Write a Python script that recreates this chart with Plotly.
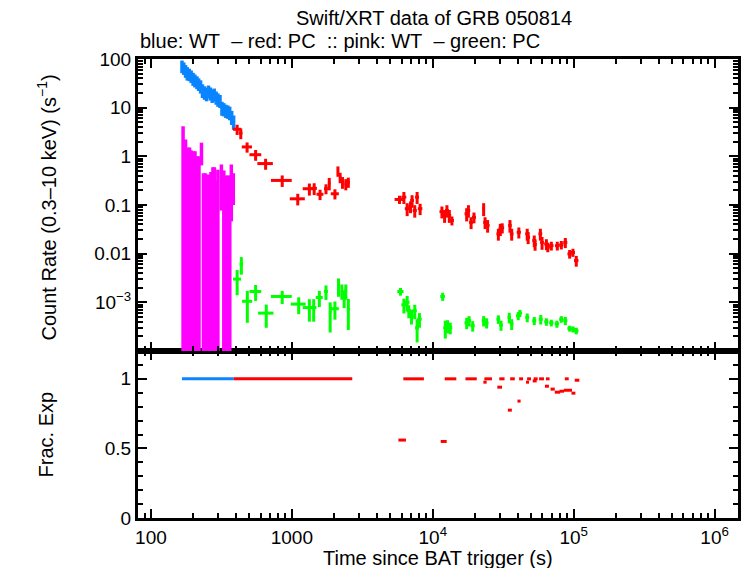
import plotly.graph_objects as go

# ---------------- data ----------------
# WT (blue) count rate
blue_t = [166, 171, 176, 181, 187, 193, 199, 205, 212, 218, 225, 232, 240, 248,
          256, 264, 272, 281, 290, 299, 309, 319, 329, 340, 351, 362, 374, 386]
blue_y = [72, 66, 58, 52, 49, 45, 40, 37, 34, 31, 28, 23, 21, 19.5,
          22, 20, 18, 19, 16.5, 15, 14, 10, 9.5, 8.8, 8.5, 8.0, 6.5, 5.2]
blue_err = [21, 19, 17, 16, 14, 13, 12, 11, 10, 9, 8.5, 7.2, 6.5, 6,
            6.5, 6, 5.5, 5.7, 5, 4.6, 4.2, 3.2, 2.9, 2.7, 2.6, 2.5, 2.1, 1.7]

# WT (pink) band: bar top and bottom (1e-6 = below the axis floor)
pink_t = [169, 176, 181.9, 187.9, 192.5, 198.8, 205.4, 212.2, 219.2, 228.3,
          235.8, 243.6, 251.6, 260.0, 266.4, 275.2, 282, 289, 298.5, 316,
          328.8, 339.7, 351, 362.7, 371.7, 384]
pink_top = [4.16, 2.21, 1.51, 1.51, 1.33, 1.27, 1.27, 1.0, 1.0, 1.91,
            0.45, 0.45, 0.42, 0.42, 0.475, 0.6, 0.6, 0.32, 0.53, 0.68,
            0.51, 0.405, 0.405, 0.405, 0.68, 0.45]
pink_low = [1e-6, 1e-6, 1e-6, 1e-6, 1e-6, 1e-6, 1e-6, 1e-6, 1e-6, 0.65,
            1e-6, 1e-6, 1e-6, 1e-6, 1e-6, 1e-6, 1e-6, 1e-6, 1e-6, 0.077,
            1e-6, 1e-6, 1e-6, 1e-6, 0.046, 0.1]

# PC (red) count rate
red_t = [409, 434, 481, 553, 651, 854, 1101, 1331, 1440, 1585, 1746, 1842, 2021,
         2122, 2200, 2286, 2414, 2516,
         5807, 6237, 6580, 6950, 7130, 7450, 7740, 8130,
         11610, 12130, 12600, 13100, 13670,
         17400, 17900, 18700, 19600,
         22960, 23500, 24500,
         29200, 30150, 31100,
         35300, 36300, 40800,
         46800, 47500, 52500, 53200, 58000, 59600, 64000, 65500,
         69400, 76500, 81700, 87200, 93600, 98800, 104300]
red_y = [3.6, 3.0, 1.56, 1.08, 0.71, 0.32, 0.134, 0.216, 0.22, 0.166, 0.216, 0.28, 0.17,
         0.5, 0.37, 0.295, 0.27, 0.295,
         0.13, 0.145, 0.084, 0.093, 0.124, 0.077, 0.145, 0.084,
         0.073, 0.061, 0.077, 0.061, 0.048,
         0.066, 0.077, 0.044, 0.056,
         0.084, 0.044, 0.038,
         0.0255, 0.032, 0.034,
         0.038, 0.0255, 0.0275,
         0.0255, 0.0217, 0.0186, 0.0155, 0.0255, 0.017, 0.0158, 0.0137,
         0.0146, 0.0146, 0.0152, 0.017, 0.0099, 0.0106, 0.0072]
red_yerr = [0.85, 0.75, 0.37, 0.27, 0.18, 0.085, 0.036, 0.06, 0.06, 0.04, 0.05, 0.08, 0.04,
            0.12, 0.09, 0.08, 0.07, 0.07,
            0.025, 0.04, 0.025, 0.025, 0.035, 0.022, 0.04, 0.022,
            0.02, 0.018, 0.022, 0.018, 0.01,
            0.02, 0.022, 0.012, 0.014,
            0.025, 0.012, 0.011,
            0.007, 0.009, 0.008,
            0.011, 0.007, 0.007,
            0.007, 0.006, 0.005, 0.004, 0.007, 0.005, 0.004, 0.003,
            0.003, 0.003, 0.003, 0.004, 0.002, 0.002, 0.0018]
red_xerr = [27, 12, 40, 53, 82, 144, 135, 137, 65, 90, 55, 40, 133,
            30, 40, 50, 50, 60,
            450, 250, 250, 250, 220, 250, 250, 300,
            450, 400, 400, 400, 450,
            600, 550, 600, 650,
            450, 700, 800,
            900, 900, 1000,
            1000, 1100, 1400,
            1500, 1500, 1700, 1500, 1800, 1800, 2200, 2200,
            2500, 2800, 2800, 2900, 3300, 3400, 3800]

# PC (green) count rate
green_t = [409, 438, 483, 553, 658, 854, 1118, 1331, 1428, 1567, 1746, 1870, 2021,
           2142, 2264, 2350, 2414, 2516,
           5900, 6237, 6580, 6760, 7060, 7450, 7740, 8040,
           11750, 12270, 12740, 13300,
           17400, 18100, 19200, 22960, 24100,
           29200, 30500, 34900, 36300, 40400, 41500,
           46800, 52500, 58400, 64000, 69400, 76000, 81700, 87200,
           93600, 98800, 104300]
green_y = [0.003, 0.0061, 0.00105, 0.00167, 0.0006, 0.00132, 0.00092, 0.00078, 0.00078,
           0.00126, 0.00167, 0.00062, 0.00074, 0.0022, 0.00173, 0.00126, 0.00173, 0.00072,
           0.00167, 0.00089, 0.001, 0.00067, 0.00053, 0.00067, 0.0003, 0.00045,
           0.00132, 0.0003, 0.00033, 0.0003,
           0.00038, 0.00042, 0.00033, 0.00042, 0.00038,
           0.00045, 0.00034, 0.00049, 0.00036, 0.00053, 0.0006,
           0.00049, 0.00042, 0.00045, 0.0004, 0.00038, 0.00036, 0.00045, 0.00042,
           0.00029, 0.00028, 0.00026]
green_yerr = [0.0016, 0.0024, 0.00067, 0.0006, 0.0003, 0.0004, 0.00035, 0.00038, 0.00038,
              0.00046, 0.00055, 0.00038, 0.0003, 0.0009, 0.0006, 0.0005, 0.0006, 0.00045,
              0.0003, 0.0003, 0.00035, 0.0002, 0.00018, 0.00022, 0.00015, 0.00015,
              0.00025, 0.00012, 0.0001, 0.00008,
              0.0001, 0.0001, 0.00008, 0.0001, 0.00009,
              0.00009, 0.00008, 0.00012, 0.00009, 0.0001, 0.0001,
              0.0001, 0.00008, 0.0001, 0.00007, 0.00006, 0.00006, 0.00007, 0.00008,
              0.00004, 0.00004, 0.00004]
green_xerr = [27, 12, 40, 53, 82, 144, 135, 137, 65, 90, 55, 40, 133,
              30, 40, 50, 50, 60,
              300, 250, 250, 220, 250, 250, 250, 300,
              450, 400, 400, 450,
              600, 600, 650, 700, 750,
              900, 900, 1000, 1100, 1400, 1400,
              1500, 1700, 1900, 2200, 2400, 2700, 2800, 2900,
              3300, 3400, 3800]

# Fractional exposure: bins (start, end) and value
fe_blue_start = [166]
fe_blue_end = [387]
fe_blue_val = [1.0]

fe_red_start = [387, 5700, 6180, 11380, 12150, 17060, 23230, 22860, 28700, 29650,
                34100, 35400, 39900, 41000, 45900, 46700, 51200, 52000, 56800, 62500,
                63500, 68500, 73400, 79300, 85100, 86500, 96400, 101700]
fe_red_end = [2683, 6450, 8650, 12550, 14690, 20510, 26300, 24100, 31000, 32300,
              36400, 38200, 42000, 43700, 48200, 49800, 54600, 55500, 61500, 66700,
              67400, 73400, 80100, 85500, 97300, 92200, 102800, 109700]
fe_red_val = [1.0, 0.56, 1.0, 0.55, 1.0, 1.0, 1.0, 0.976, 0.94, 1.0,
              0.775, 1.0, 0.84, 1.0, 0.976, 1.0, 0.985, 1.0, 1.0, 0.947,
              1.0, 0.926, 0.904, 0.911, 0.918, 1.0, 0.897, 0.99]

x_tickvals = [100, 1000, 1e4, 1e5, 1e6]
x_ticktext = ["100", "1000", "10<sup>4</sup>", "10<sup>5</sup>", "10<sup>6</sup>"]
y_tickvals = [1e-3, 0.01, 0.1, 1, 10, 100]
y_ticktext = ["10<sup>\u22123</sup>", "0.01", "0.1", "1", "10", "100"]
fe_tickvals = [0, 0.5, 1]
fe_ticktext = ["0", "0.5", "1"]

# ---------------- colours / styles ----------------
C_BLUE = "#0a84ff"
C_RED = "#ff0000"
C_PINK = "#ff00ff"
C_GREEN = "#00ff00"
FONT = "Liberation Sans, Arial, Helvetica, sans-serif"


def seg_trace(starts, ends, vals, color, xa, ya):
    cen = [(s * e) ** 0.5 for s, e in zip(starts, ends)]
    return go.Scatter(
        x=cen, y=vals, mode="markers", xaxis=xa, yaxis=ya,
        marker=dict(size=1, color=color),
        error_x=dict(type="data", symmetric=False,
                     array=[e - c for e, c in zip(ends, cen)],
                     arrayminus=[c - s for s, c in zip(starts, cen)],
                     thickness=3, width=0, color=color),
        showlegend=False, hoverinfo="skip")


fig = go.Figure()

pink_y = [(a * b) ** 0.5 for a, b in zip(pink_top, pink_low)]
fig.add_trace(go.Scatter(
    x=pink_t, y=pink_y, mode="markers", xaxis="x2", yaxis="y2",
    marker=dict(size=1, color=C_PINK),
    error_y=dict(type="data", symmetric=False,
                 array=[t - y for t, y in zip(pink_top, pink_y)],
                 arrayminus=[y - l for y, l in zip(pink_y, pink_low)],
                 thickness=3.5, width=0, color=C_PINK),
    showlegend=False, hoverinfo="skip"))

fig.add_trace(go.Scatter(
    x=blue_t, y=blue_y, mode="markers", xaxis="x2", yaxis="y2",
    marker=dict(size=1, color=C_BLUE),
    error_y=dict(type="data", array=blue_err, thickness=3.5, width=0, color=C_BLUE),
    showlegend=False, hoverinfo="skip"))

fig.add_trace(go.Scatter(
    x=red_t, y=red_y, mode="markers", xaxis="x2", yaxis="y2",
    marker=dict(size=1, color=C_RED),
    error_y=dict(type="data", array=red_yerr, thickness=3, width=0, color=C_RED),
    error_x=dict(type="data", array=red_xerr, thickness=3, width=0, color=C_RED),
    showlegend=False, hoverinfo="skip"))

fig.add_trace(go.Scatter(
    x=green_t, y=green_y, mode="markers", xaxis="x2", yaxis="y2",
    marker=dict(size=1, color=C_GREEN),
    error_y=dict(type="data", array=green_yerr, thickness=3, width=0, color=C_GREEN),
    error_x=dict(type="data", array=green_xerr, thickness=3, width=0, color=C_GREEN),
    showlegend=False, hoverinfo="skip"))

fig.add_trace(seg_trace(fe_blue_start, fe_blue_end, fe_blue_val, C_BLUE, "x", "y"))
fig.add_trace(seg_trace(fe_red_start, fe_red_end, fe_red_val, C_RED, "x", "y"))

# minor tick positions
x_minor = [m * 10 ** k for k in range(1, 7) for m in range(2, 10)]
y_minor = [m * 10 ** k for k in range(-4, 2) for m in range(2, 10)]
fe_minor = [i / 10 for i in range(0, 13)]

axis_common = dict(showline=True, linewidth=3, linecolor="black", mirror="allticks",
                   ticks="inside", ticklen=9, tickwidth=2, tickcolor="black",
                   showgrid=False, zeroline=False,
                   tickfont=dict(family=FONT, size=19, color="black"))
minor_common = dict(ticks="inside", ticklen=5, tickwidth=2, tickcolor="black", showgrid=False)

H_BOT = 167 / 459

fig.update_layout(
    width=746, height=568,
    margin=dict(l=138, r=5, t=59, b=50),
    paper_bgcolor="white", plot_bgcolor="white",
    font=dict(family=FONT, size=20, color="black"),
    xaxis=dict(type="log", range=[1.908, 6.166], anchor="y", domain=[0, 1],
               tickmode="array", tickvals=x_tickvals, ticktext=x_ticktext,
               minor=dict(tickmode="array", tickvals=x_minor, **minor_common),
               **axis_common),
    xaxis2=dict(type="log", range=[1.908, 6.166], anchor="y2", matches="x",
                tickmode="array", tickvals=x_tickvals, showticklabels=False,
                minor=dict(tickmode="array", tickvals=x_minor, **minor_common),
                **axis_common),
    yaxis=dict(range=[0, 1.2], domain=[0, H_BOT], anchor="x",
               tickmode="array", tickvals=fe_tickvals, ticktext=fe_ticktext,
               minor=dict(tickmode="array", tickvals=fe_minor, **minor_common),
               **axis_common),
    yaxis2=dict(type="log", range=[-4, 2], domain=[H_BOT, 1], anchor="x2",
                tickmode="array", tickvals=y_tickvals, ticktext=y_ticktext,
                minor=dict(tickmode="array", tickvals=y_minor, **minor_common),
                **axis_common),
)

ann = [
    dict(text="Swift/XRT data of GRB 050814", x=(435 - 138) / 603, y=(518 - 18) / 459,
         xanchor="center", yanchor="middle"),
    dict(text="blue: WT\u00a0\u00a0\u2013 red: PC\u00a0\u00a0:: pink: WT\u00a0\u00a0\u2013 green: PC",
         x=0, y=(518 - 41) / 459, xanchor="left", yanchor="middle"),
    dict(text="Time since BAT trigger (s)", x=0.5, y=(518 - 558) / 459,
         xanchor="center", yanchor="middle"),
    dict(text="Count Rate (0.3\u201310 keV) (s<sup>\u22121</sup>)", x=(46 - 138) / 603,
         y=(518 - 207) / 459, xanchor="center", yanchor="middle", textangle=-90),
    dict(text="Frac. Exp", x=(46 - 138) / 603, y=(518 - 434) / 459,
         xanchor="center", yanchor="middle", textangle=-90),
]
for a in ann:
    fig.add_annotation(xref="paper", yref="paper", showarrow=False,
                       font=dict(family=FONT, size=20, color="black"), **a)

fig.write_html("out.html")
